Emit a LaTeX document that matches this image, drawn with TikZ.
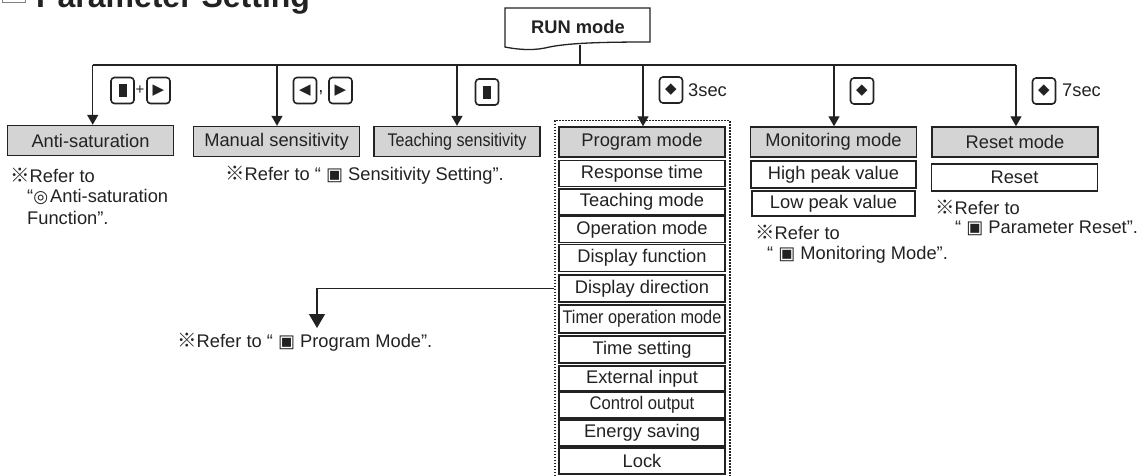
\documentclass[tikz,border=0pt]{standalone}
\usepackage{fontspec}
\usepackage{graphicx}
\setmainfont{Liberation Sans}
\newfontfamily\symfont{DejaVu Sans}
\newfontfamily\cjkfont{Noto Sans CJK JP}
\usetikzlibrary{arrows.meta}
\definecolor{ink}{HTML}{222222}
\definecolor{boxgray}{HTML}{D4D4D4}
\newcommand{\refmark}{{\cjkfont\fontsize{19.5}{20}\selectfont ※}}
\newcommand{\secmark}{{\symfont\fontsize{18}{18}\selectfont ▣}}
\newcommand{\keyglyph}[1]{{\symfont\fontsize{15}{15}\selectfont #1}}

\begin{document}
\begin{tikzpicture}[x=1pt, y=-1pt,
		every node/.style={font=\fontsize{18.3}{20}\selectfont, text=ink},
		modebox/.style={draw=ink, line width=1.4pt, fill=boxgray,
			minimum width=166pt, minimum height=30pt, inner sep=0pt},
		itembox/.style={draw=ink, line width=1.4pt, fill=white,
			minimum width=166pt, minimum height=26pt, inner sep=0pt},
		keybox/.style={draw=ink, line width=1.6pt, rounded corners=3.5pt,
			minimum width=23pt, minimum height=26pt, inner sep=0pt},
		note/.style={anchor=west, inner sep=0pt},
		wire/.style={draw=ink, line width=1.3pt},
		branch/.style={wire, -{Triangle[width=11pt,length=10pt]}},
	]
	\useasboundingbox (0,0) rectangle (1137,475);

	% title, cut by the top edge
	\node[draw=gray, line width=0.8pt, minimum size=23pt, inner sep=0pt] (titlebox) at (13.5,-9.5) {};
	\node[anchor=base west, inner sep=0pt, font=\bfseries\fontsize{32}{34}\selectfont]
		(title) at (36,7) {Parameter Setting};

	% RUN mode
	\draw[wire] (505,8) -- (650,8) -- (650,42)
		.. controls (600,42) and (565,43) .. (545,48)
		.. controls (530,51) and (515,49) .. (505,47) -- cycle;
	\node[font=\bfseries\fontsize{18.3}{20}\selectfont] (run) at (578,27) {RUN mode};
	\coordinate (runfoot) at (580,45);
	\coordinate (bus) at (580,65);
	\coordinate (b1) at (92.7,65);
	\coordinate (b2) at (277,65);
	\coordinate (b3) at (457,65);
	\coordinate (b4) at (643,65);
	\coordinate (b5) at (834,65);
	\coordinate (b6) at (1016,65);
	\draw[wire] (runfoot) -- (bus);
	\draw[wire] (b1) -- (b6);

	% keys
	\node[keybox] (k1a) at (122.5,90.5) {\rule{8pt}{13pt}};
	\node[inner sep=0pt, font=\fontsize{15}{15}\selectfont] (k1p) at (140,90.5) {+};
	\node[keybox] (k1b) at (158.5,90.5) {\keyglyph{▶}};
	\node[keybox] (k2a) at (305,90.5) {\keyglyph{◀}};
	\node[inner sep=0pt] (k2c) at (321,93) {,};
	\node[keybox] (k2b) at (340.5,90.5) {\keyglyph{▶}};
	\node[keybox] (k3) at (487,92) {\rule{8pt}{13pt}};
	\node[keybox] (k4) at (671,90) {\keyglyph{◆}};
	\node[anchor=west, inner sep=0pt] (k4t) at (688,90) {3sec};
	\node[keybox] (k5) at (862,91) {\keyglyph{◆}};
	\node[keybox] (k6) at (1044,91) {\keyglyph{◆}};
	\node[anchor=west, inner sep=0pt] (k6t) at (1062,90) {7sec};

	% program frame
	\node[draw=ink, line width=1.2pt, dash pattern=on 1.6pt off 1.4pt,
		minimum width=175pt, minimum height=370pt, anchor=north, inner sep=0pt]
		(progframe) at (642.5,120) {};

	% mode boxes
	\node[modebox] (anti) at (90.5,140.5) {Anti-saturation};
	\node[modebox] (manual) at (276.5,141.5) {Manual sensitivity};
	\node[modebox] (teach) at (457,141.5) {\scalebox{0.88}[1]{Teaching sensitivity}};
	\node[modebox] (prog) at (642,142) {Program mode};
	\node[modebox] (monit) at (833.5,142) {Monitoring mode};
	\node[modebox] (reset) at (1015,142) {Reset mode};

	\draw[branch] (b1) -- (b1 |- anti.north);
	\draw[branch] (b2) -- (b2 |- manual.north);
	\draw[branch] (b3) -- (b3 |- teach.north);
	\draw[branch] (b4) -- (b4 |- prog.north);
	\draw[branch] (b5) -- (b5 |- monit.north);
	\draw[branch] (b6) -- (b6 |- reset.north);

	% program items
	\node[itembox] (resp) at (642,173.5) {Response time};
	\node[itembox] (tmode) at (642,202) {Teaching mode};
	\node[itembox] (omode) at (642,229.5) {Operation mode};
	\node[itembox, minimum height=27pt] (disfun) at (642,258) {Display function};
	\node[itembox, minimum height=27pt] (disdir) at (642,288.5) {Display direction};
	\node[itembox, minimum height=28pt] (timer) at (642,319) {\scalebox{0.89}[1]{Timer operation mode}};
	\node[itembox, minimum height=27pt] (tset) at (642,349.5) {Time setting};
	\node[itembox, minimum height=25pt] (extin) at (642,378.5) {External input};
	\node[itembox] (ctrl) at (642,405) {\scalebox{0.91}[1]{Control output}};
	\node[itembox] (energy) at (642,433) {Energy saving};
	\node[itembox] (lock) at (642,461) {Lock};

	% monitoring and reset items
	\node[itembox, minimum width=165pt, minimum height=27pt] (high) at (833.5,174.5) {High peak value};
	\node[itembox, minimum width=163pt, minimum height=25pt] (low) at (833.5,203.5) {Low peak value};
	\node[itembox, minimum height=27pt] (rst) at (1014.5,177.5) {Reset};

	% program mode arrow
	\coordinate (pmtip) at (317,328);
	\draw[wire, -{Triangle[width=16pt,length=14pt]}] (progframe.west |- disdir) -| (pmtip);

	% notes
	\node[note] (n1a) at (10,175) {\refmark Refer to};
	\node[note] (n1b) at (27,197) {“{\symfont\fontsize{17}{17}\selectfont ◎}\hspace{2pt}Anti-saturation};
	\node[note] (n1c) at (27,218) {Function”.};
	\node[note] (n2) at (225,175) {\refmark Refer to “ \secmark\ Sensitivity Setting”.};
	\node[note] (n3) at (177,342) {\refmark Refer to “ \secmark\ Program Mode”.};
	\node[note] (n4a) at (755,232) {\refmark Refer to};
	\node[note] (n4b) at (767,255) {“ \secmark\ Monitoring Mode”.};
	\node[note] (n5a) at (935,207) {\refmark Refer to};
	\node[note] (n5b) at (955,228) {“ \secmark\ Parameter Reset”.};
\end{tikzpicture}
\end{document}
